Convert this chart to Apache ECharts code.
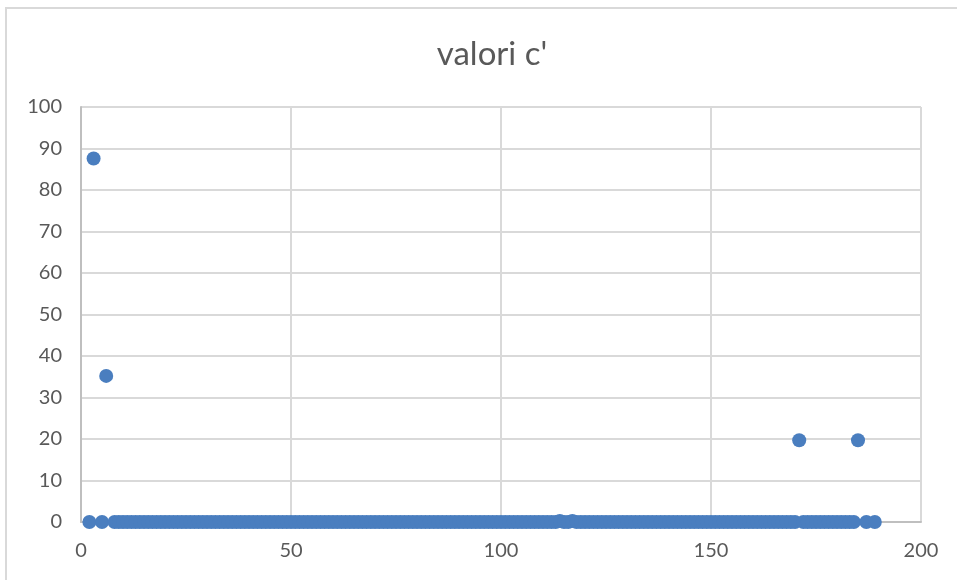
<!DOCTYPE html>
<html>
<head>
<meta charset="utf-8">
<script src="https://cdn.jsdelivr.net/npm/echarts@6/dist/echarts.min.js"></script>
<style>
  html, body { margin: 0; padding: 0; background: #fff; }
  #chart { width: 957px; height: 580px; }
</style>
</head>
<body>
<div id="chart"></div>
<script>
const chartTitle = "valori c'";
const xTicks = [0, 50, 100, 150, 200];
const yTicks = [0, 10, 20, 30, 40, 50, 60, 70, 80, 90, 100];

// x positions of the points
const xValues = [
  2, 3, 5, 6,
  8, 9, 10, 11, 12, 13, 14, 15, 16, 17,
  18, 19, 20, 21, 22, 23, 24, 25, 26, 27,
  28, 29, 30, 31, 32, 33, 34, 35, 36, 37,
  38, 39, 40, 41, 42, 43, 44, 45, 46, 47,
  48, 49, 50, 51, 52, 53, 54, 55, 56, 57,
  58, 59, 60, 61, 62, 63, 64, 65, 66, 67,
  68, 69, 70, 71, 72, 73, 74, 75, 76, 77,
  78, 79, 80, 81, 82, 83, 84, 85, 86, 87,
  88, 89, 90, 91, 92, 93, 94, 95, 96, 97,
  98, 99, 100, 101, 102, 103, 104, 105, 106, 107,
  108, 109, 110, 111, 112, 113, 114, 115, 116, 117,
  118, 119, 120, 121, 122, 123, 124, 125, 126, 127,
  128, 129, 130, 131, 132, 133, 134, 135, 136, 137,
  138, 139, 140, 141, 142, 143, 144, 145, 146, 147,
  148, 149, 150, 151, 152, 153, 154, 155, 156, 157,
  158, 159, 160, 161, 162, 163, 164, 165, 166, 167,
  168, 169, 170, 171, 172, 173, 174, 175, 176, 177,
  178, 179, 180, 181, 182, 183, 184, 185,
  187, 189
];

// c' values
const yValues = [
  0, 87.6, 0, 35.2,
  0, 0, 0, 0, 0, 0, 0, 0, 0, 0,
  0, 0, 0, 0, 0, 0, 0, 0, 0, 0,
  0, 0, 0, 0, 0, 0, 0, 0, 0, 0,
  0, 0, 0, 0, 0, 0, 0, 0, 0, 0,
  0, 0, 0, 0, 0, 0, 0, 0, 0, 0,
  0, 0, 0, 0, 0, 0, 0, 0, 0, 0,
  0, 0, 0, 0, 0, 0, 0, 0, 0, 0,
  0, 0, 0, 0, 0, 0, 0, 0, 0, 0,
  0, 0, 0, 0, 0, 0, 0, 0, 0, 0,
  0, 0, 0, 0, 0, 0, 0, 0, 0, 0,
  0, 0, 0, 0, 0, 0, 0.25, 0, 0, 0.25,
  0, 0, 0, 0, 0, 0, 0, 0, 0, 0,
  0, 0, 0, 0, 0, 0, 0, 0, 0, 0,
  0, 0, 0, 0, 0, 0, 0, 0, 0, 0,
  0, 0, 0, 0, 0, 0, 0, 0, 0, 0,
  0, 0, 0, 0, 0, 0, 0, 0, 0, 0,
  0, 0, 0, 19.7, 0, 0, 0, 0, 0, 0,
  0, 0, 0, 0, 0, 0, 0, 19.7,
  0, 0
];

const font = 'Lato, "Open Sans", sans-serif';
const labelColor = '#595959';

const chart = echarts.init(document.getElementById('chart'), null, { renderer: 'canvas' });

chart.setOption({
  backgroundColor: '#fff',
  animation: false,
  graphic: [{
    type: 'rect',
    shape: { x: 6, y: 8, width: 1000, height: 1000 },
    style: { fill: 'none', stroke: '#d9d9d9', lineWidth: 2 },
    silent: true
  }, {
    // title is centred on the whole chart area, which runs past the right edge
    type: 'text',
    x: 492,
    y: 54,
    style: {
      text: chartTitle,
      fill: labelColor,
      font: '33px ' + font,
      align: 'center',
      verticalAlign: 'middle'
    },
    silent: true
  }],
  grid: { left: 81, right: 36, top: 107, bottom: 58 },
  xAxis: {
    type: 'value',
    min: xTicks[0],
    max: xTicks[xTicks.length - 1],
    interval: 50,
    axisLine: { show: true, lineStyle: { color: '#bfbfbf', width: 2 } },
    axisTick: { show: false },
    axisLabel: { color: labelColor, fontSize: 20, fontFamily: font, margin: 19 },
    splitLine: { show: true, lineStyle: { color: '#d9d9d9', width: 2 } }
  },
  yAxis: {
    type: 'value',
    min: yTicks[0],
    max: yTicks[yTicks.length - 1],
    interval: 10,
    axisLine: { show: true, lineStyle: { color: '#bfbfbf', width: 2 } },
    axisTick: { show: false },
    axisLabel: { color: labelColor, fontSize: 20, fontFamily: font, margin: 19 },
    splitLine: { show: true, lineStyle: { color: '#d9d9d9', width: 2 } }
  },
  series: [{
    name: chartTitle,
    type: 'scatter',
    symbol: 'circle',
    symbolSize: 14,
    itemStyle: { color: '#4a7ebf', opacity: 1 },
    data: xValues.map((x, i) => [x, yValues[i]])
  }]
});
</script>
</body>
</html>
